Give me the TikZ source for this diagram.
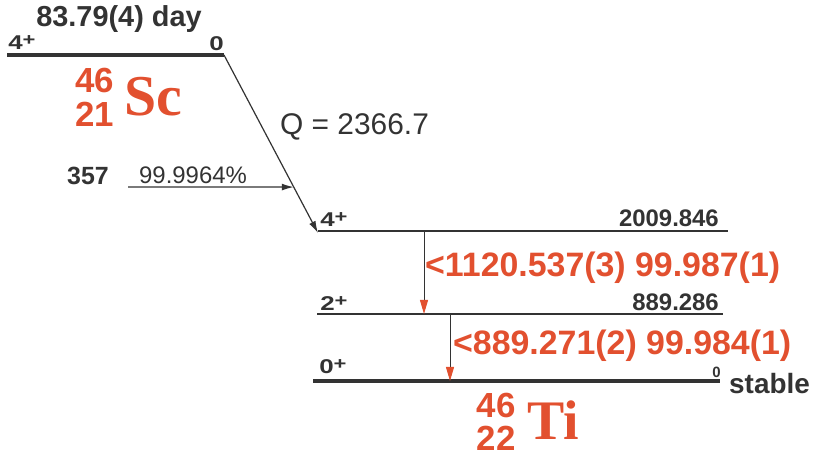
\documentclass[tikz,border=0pt]{standalone}
\usepackage{fontspec}
\newfontfamily\helv{Liberation Sans}
\newfontfamily\serifbf{Liberation Serif}
\usetikzlibrary{arrows.meta, positioning, calc}
\definecolor{nuclred}{HTML}{E2502F}
\definecolor{inkgray}{HTML}{333333}
\newcommand{\fsz}[1]{\fontsize{#1}{#1}\selectfont}
\newcommand{\jplus}[1]{#1\raisebox{0.22em}{\fsz{17}+}}
\tikzset{
  txt/.style={inner sep=0pt, text=inkgray, font=\helv\bfseries\fsz{#1}},
  spin/.style={txt=20, xscale=1.3, anchor=base west},
  energy/.style={txt=24, anchor=base east},
  level/.style={draw=inkgray, line width=1.5bp},
  gslevel/.style={draw=inkgray, line width=4bp},
  gline/.style={txt=34, text=nuclred, anchor=base west},
  nuclnum/.style={txt=35, text=nuclred, text height=25bp, text depth=0pt, anchor=base},
  nuclsym/.style={inner sep=0pt, text=nuclred, font=\serifbf\bfseries\fsz{#1}, anchor=base west},
  decay/.style={draw=inkgray, line width=1.2bp, -{Latex[length=12bp,width=7bp]}},
  gamma/.style={draw=inkgray, line width=1bp, -{Triangle[length=14bp,width=8bp,color=nuclred]}}
}

\begin{document}
\begin{tikzpicture}[x=1bp, y=-1bp]
\useasboundingbox (0,0) rectangle (816,457);

%% ---- 46Sc ground state ----
\node[txt=29, anchor=base] (halflife) at (119,27) {83.79(4) day};
\coordinate (scL) at (7,55);
\coordinate (scR) at (224,55);
\draw[gslevel] (scL) -- (scR);
\node[spin] (scspin) at (8,50) {\jplus{4}};
\node[spin, anchor=base east] (sce) at (224,51) {0};
\node[nuclnum] (scA) at (95,93) {46};
\node[nuclnum] (scZ) at (95,127) {21};
\node[nuclsym=58] (scsym) at (124,116) {Sc};

%% ---- beta branch ----
\node[txt=30, font=\helv\fsz{30}, anchor=base west] (qval) at (280,135) {Q = 2366.7};
\coordinate (tiarr) at (318,233);
\draw[decay] (scR) -- (tiarr);
\coordinate (feed) at ($(scR)!0.742!(tiarr)$);
\coordinate (feedL) at (128,187);
\draw[decay] (feedL) -- (feed);
\node[txt=25, anchor=base west] (e357) at (67,185) {357};
\node[txt=24, font=\helv\fsz{24}, anchor=base west] (branch) at (139,184) {99.9964\%};

%% ---- 46Ti levels ----
\coordinate (t4L) at (318,231);
\coordinate (t4R) at (728,231);
\draw[level] (t4L) -- (t4R);
\node[spin] (t4spin) at (320,227) {\jplus{4}};
\node[energy] (t4e) at (719,227) {2009.846};

\coordinate (t2L) at (317,314);
\coordinate (t2R) at (723,314);
\draw[level] (t2L) -- (t2R);
\node[spin] (t2spin) at (320,311) {\jplus{2}};
\node[energy] (t2e) at (719,311) {889.286};

\coordinate (t0L) at (313,381);
\coordinate (t0R) at (720,381);
\draw[gslevel] (t0L) -- (t0R);
\node[spin] (t0spin) at (319,374) {\jplus{0}};
\node[txt=15, anchor=base east] (t0e) at (721,378) {0};
\node[txt=28, anchor=base west] (stable) at (729,393) {stable};

%% ---- gamma transitions ----
\coordinate (g1top) at (424,231);
\coordinate (g1bot) at (424,314);
\draw[gamma] (g1top) -- (g1bot);
\node[gline] (g1lab) at (425,277) {<1120.537(3) 99.987(1)};

\coordinate (g2top) at (450,314);
\coordinate (g2bot) at (450,381);
\draw[gamma] (g2top) -- (g2bot);
\node[gline] (g2lab) at (453,355) {<889.271(2) 99.984(1)};

%% ---- 46Ti label ----
\node[nuclnum] (tiA) at (496,417) {46};
\node[nuclnum] (tiZ) at (496,450) {22};
\node[nuclsym=56] (tisym) at (527,439) {Ti};

\end{tikzpicture}
\end{document}
